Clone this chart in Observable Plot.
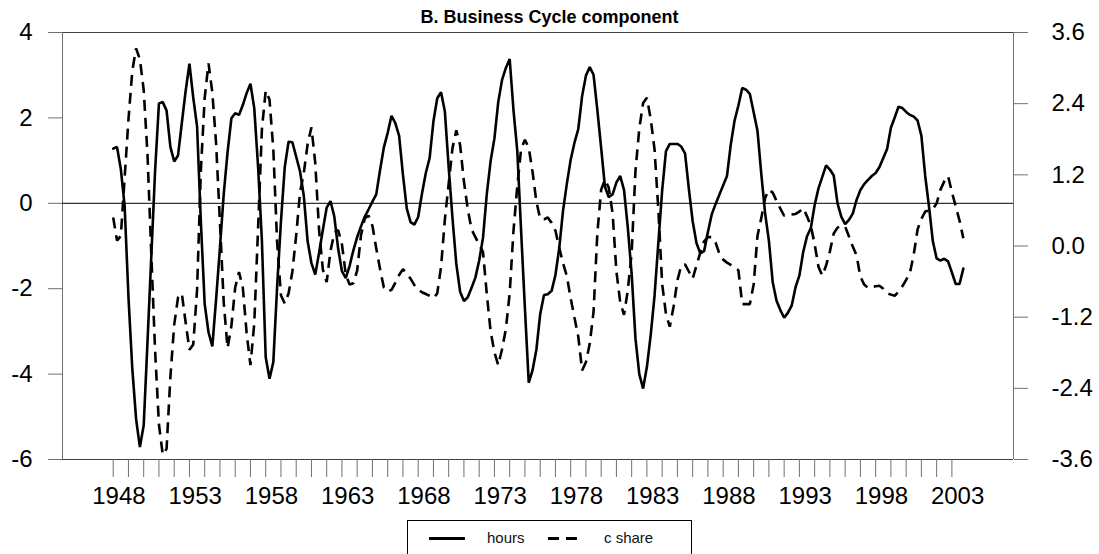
<!DOCTYPE html>
<html>
<head>
<meta charset="utf-8">
<script src="https://cdn.jsdelivr.net/npm/d3@7"></script>
<script src="https://cdn.jsdelivr.net/npm/@observablehq/plot@0.6"></script>
<style>
  body { margin: 0; background: #fff; font-family: Arial, "Liberation Sans", sans-serif; }
  #title { height: 22px; box-sizing: border-box; padding-top: 9px; line-height: 16px; font-weight: bold; font-size: 18px; text-align: center; width: 1099px; }
  #legend { position: absolute; left: 407px; top: 520px; width: 285px; height: 50px; border: 1px solid #000; box-sizing: border-box; font-size: 15px; background: #fff; }
  #legend .ln { position: absolute; top: 16px; height: 3px; background: #000; }
  #legend .lb { position: absolute; top: 9px; line-height: 15px; color: #111; }
</style>
</head>
<body>
<div id="title">B. Business Cycle component</div>
<div id="chart"></div>
<div id="legend">
  <div class="ln" style="left:21px;width:36px"></div>
  <div class="lb" style="left:79px">hours</div>
  <div class="ln" style="left:140px;width:11px"></div>
  <div class="ln" style="left:158px;width:11px"></div>
  <div class="lb" style="left:196px">c share</div>
</div>
<script>
// Quarterly data, 1948Q1 - 2003Q4
const startYear = 1948;
const hours = [
  1.28, 1.32, 0.80, -0.06, -2.19, -3.86, -5.05, -5.71, -5.20, -3.24,
  -1.23, 0.78, 2.34, 2.37, 2.17, 1.32, 0.98, 1.12, 1.88, 2.63,
  3.27, 2.47, 1.80, -0.45, -2.36, -3.02, -3.35, -2.24, -1.04, 0.22,
  1.20, 1.99, 2.11, 2.07, 2.30, 2.58, 2.80, 2.23, 0.86, -0.86,
  -3.60, -4.11, -3.72, -1.95, -0.43, 0.85, 1.44, 1.43, 1.09, 0.75,
  0.17, -0.89, -1.40, -1.67, -1.16, -0.62, -0.10, 0.05, -0.31, -1.06,
  -1.59, -1.75, -1.47, -1.10, -0.79, -0.54, -0.31, -0.14, 0.04, 0.21,
  0.78, 1.31, 1.65, 2.05, 1.88, 1.58, 0.67, -0.12, -0.44, -0.50,
  -0.32, 0.23, 0.71, 1.06, 1.92, 2.46, 2.60, 2.15, 0.84, -0.35,
  -1.42, -2.07, -2.29, -2.20, -1.98, -1.74, -1.34, -0.81, 0.22, 0.99,
  1.52, 2.37, 2.89, 3.17, 3.38, 2.18, 1.22, -0.65, -2.46, -4.20,
  -3.91, -3.43, -2.60, -2.15, -2.13, -2.05, -1.68, -1.05, -0.17, 0.46,
  1.02, 1.42, 1.74, 2.51, 2.99, 3.19, 3.01, 2.18, 1.29, 0.38,
  0.14, 0.21, 0.49, 0.64, 0.31, -0.58, -1.66, -3.17, -4.00, -4.34,
  -3.83, -3.08, -2.17, -0.92, 0.30, 1.22, 1.39, 1.39, 1.39, 1.33,
  1.17, 0.34, -0.42, -0.93, -1.17, -1.12, -0.67, -0.26, -0.02, 0.20,
  0.42, 0.64, 1.38, 1.94, 2.29, 2.70, 2.66, 2.56, 2.13, 1.70,
  0.69, -0.23, -0.88, -1.85, -2.28, -2.50, -2.68, -2.56, -2.39, -1.96,
  -1.69, -1.14, -0.77, -0.58, -0.04, 0.35, 0.62, 0.89, 0.79, 0.65,
  0.00, -0.32, -0.49, -0.39, -0.24, 0.08, 0.31, 0.45, 0.55, 0.64,
  0.71, 0.85, 1.06, 1.27, 1.77, 2.01, 2.26, 2.23, 2.14, 2.07,
  2.03, 1.94, 1.58, 0.64, -0.08, -0.89, -1.29, -1.34, -1.30, -1.36,
  -1.62, -1.89, -1.89, -1.53
];
const cShare = [
  0.48, 0.09, 0.17, 1.15, 2.13, 2.95, 3.33, 3.15, 2.63, 1.54,
  -0.15, -1.78, -3.01, -3.52, -3.42, -2.21, -1.33, -0.87, -0.80, -1.29,
  -1.75, -1.66, -0.74, 1.28, 2.50, 3.08, 2.59, 1.72, 0.40, -0.96,
  -1.72, -1.35, -0.70, -0.44, -0.70, -1.47, -2.01, -1.31, 0.29, 1.96,
  2.62, 2.47, 1.63, 0.06, -0.83, -0.97, -0.80, -0.43, 0.18, 0.90,
  1.23, 1.72, 2.00, 1.40, 0.27, -0.40, -0.61, -0.08, 0.22, 0.27,
  0.03, -0.48, -0.65, -0.63, -0.41, 0.18, 0.47, 0.51, 0.34, -0.04,
  -0.39, -0.70, -0.77, -0.74, -0.62, -0.49, -0.39, -0.47, -0.55, -0.66,
  -0.74, -0.78, -0.81, -0.84, -0.88, -0.80, -0.35, 0.45, 1.05, 1.65,
  1.95, 1.70, 1.09, 0.62, 0.28, 0.15, 0.02, -0.10, -0.81, -1.44,
  -1.79, -2.01, -1.74, -1.40, -0.80, 0.26, 1.01, 1.64, 1.79, 1.66,
  1.25, 0.75, 0.46, 0.45, 0.48, 0.39, 0.26, -0.03, -0.29, -0.51,
  -0.88, -1.21, -1.53, -2.10, -1.96, -1.65, -1.11, 0.22, 0.95, 1.12,
  0.98, 0.55, -0.43, -0.95, -1.16, -0.74, -0.11, 1.27, 1.98, 2.41,
  2.50, 2.14, 1.63, 0.61, -0.64, -1.15, -1.36, -1.02, -0.58, -0.33,
  -0.31, -0.43, -0.55, -0.33, -0.11, 0.08, 0.15, 0.15, 0.06, -0.13,
  -0.23, -0.28, -0.32, -0.36, -0.41, -0.98, -0.98, -0.98, -0.65, 0.17,
  0.47, 0.81, 0.95, 0.90, 0.76, 0.63, 0.51, 0.52, 0.53, 0.54,
  0.58, 0.64, 0.50, 0.34, 0.03, -0.35, -0.50, -0.33, -0.09, 0.21,
  0.31, 0.34, 0.33, 0.16, -0.01, -0.16, -0.52, -0.65, -0.71, -0.69,
  -0.68, -0.67, -0.72, -0.80, -0.82, -0.84, -0.77, -0.68, -0.57, -0.45,
  -0.14, 0.28, 0.46, 0.58, 0.60, 0.62, 0.72, 0.95, 1.09, 1.18,
  0.91, 0.67, 0.43, 0.13
];
const leftTicks = [-6, -4, -2, 0, 2, 4];
const rightTicks = [-3.6, -2.4, -1.2, 0.0, 1.2, 2.4, 3.6];
const tickYears = d3.range(1948, 2004);
const labelYears = [1948, 1953, 1958, 1963, 1968, 1973, 1978, 1983, 1988, 1993, 1998, 2003];

// right axis [-3.6, 3.6] mapped onto the left axis [-6, 4]
const leftDomain = [-6, 4];
const rightDomain = [-3.6, 3.6];
const toLeft = c => leftDomain[0] + (c - rightDomain[0]) / (rightDomain[1] - rightDomain[0]) * (leftDomain[1] - leftDomain[0]);
const rightLabel = new Map(rightTicks.map(c => [toLeft(c), c.toFixed(1)]));

const hoursData = hours.map((v, i) => ({t: startYear + i / 4, v}));
const cData = cShare.map((c, i) => ({t: startYear + i / 4, v: toLeft(c)}));

const labelOffset = 0.375;
const xDomain = [1944.675, 2007.04];
const axisColor = "#707070";

const chart = Plot.plot({
  width: 1099,
  height: 496,
  marginLeft: 62,
  marginRight: 86,
  marginTop: 10,
  marginBottom: 59,
  style: {fontFamily: "Arial, 'Liberation Sans', sans-serif", fontSize: "24px", background: "white", overflow: "visible"},
  x: {type: "linear", domain: xDomain, label: null},
  y: {domain: leftDomain, label: null},
  marks: [
    Plot.ruleY(leftDomain, {stroke: "#404040", strokeWidth: 1}),
    Plot.ruleX([xDomain[0]], {stroke: axisColor, strokeWidth: 1}),
    Plot.ruleX([xDomain[1]], {stroke: axisColor, strokeWidth: 1}),
    Plot.ruleY([0], {stroke: "#000", strokeWidth: 1}),
    Plot.axisY(leftTicks, {anchor: "left", label: null, tickSize: 14, tickPadding: 16, stroke: axisColor, fill: "#000", fontSize: 24, tickFormat: d => String(d)}),
    Plot.axisY(rightTicks.map(toLeft), {anchor: "right", label: null, tickSize: 14, tickPadding: 24, stroke: axisColor, fill: "#000", fontSize: 24, tickFormat: d => rightLabel.get(d)}),
    Plot.axisX(tickYears, {anchor: "bottom", label: null, tickSize: 18, stroke: axisColor, tickFormat: () => ""}),
    Plot.axisX(labelYears.map(y => y + labelOffset), {anchor: "bottom", label: null, tickSize: 0, tickPadding: 27, fill: "#000", fontSize: 24, tickFormat: d => String(Math.round(d - labelOffset))}),
    Plot.line(cData, {x: "t", y: "v", stroke: "#000", strokeWidth: 2.6, strokeDasharray: "11,7", strokeLinecap: "butt", strokeLinejoin: "miter"}),
    Plot.line(hoursData, {x: "t", y: "v", stroke: "#000", strokeWidth: 2.6, strokeLinejoin: "miter"})
  ]
});
document.getElementById("chart").appendChild(chart);
</script>
</body>
</html>
